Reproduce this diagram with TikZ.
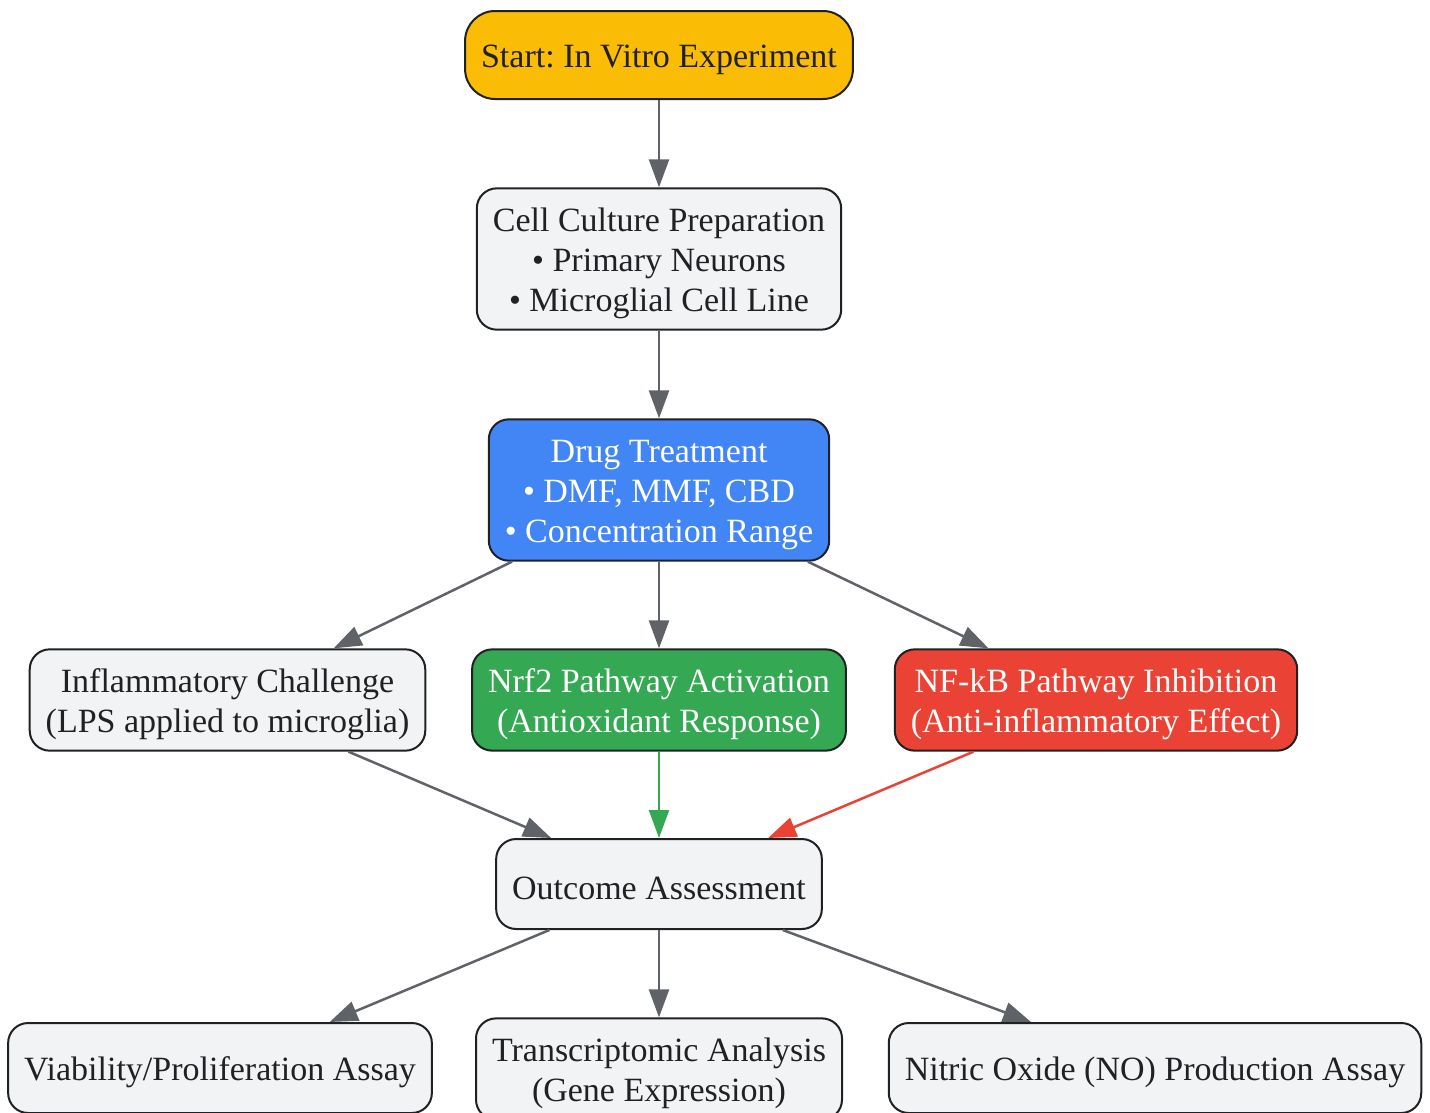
\documentclass[tikz,border=0pt]{standalone}
\usepackage{fontspec}
\setmainfont{Liberation Serif}
\usetikzlibrary{arrows.meta,positioning}
\definecolor{gyellow}{HTML}{FBBC05}
\definecolor{gblue}{HTML}{4285F4}
\definecolor{ggreen}{HTML}{34A853}
\definecolor{gred}{HTML}{EA4335}
\definecolor{boxgray}{HTML}{F1F3F4}
\definecolor{edgedark}{HTML}{202124}
\definecolor{arrowgray}{HTML}{5F6368}
\frenchspacing
\newcommand{\topstrut}{\rule{0pt}{32pt}}

\begin{document}
\begin{tikzpicture}[
    node distance=184pt,
    >={Triangle[length=28pt,width=20pt]},
    font=\fontsize{34}{40}\selectfont,
    process/.style={
		rectangle,
		rounded corners=20pt,
		draw=edgedark,
		line width=2pt,
		fill=boxgray,
		text=edgedark,
		align=center,
		inner xsep=16pt,
		inner ysep=11pt,
		minimum height=90pt,
		execute at begin node={\topstrut}
	},
	terminal/.style={
		process,
		rounded corners=30pt,
		fill=gyellow,
		minimum height=88pt
	},
	drugbox/.style={process, fill=gblue, text=white},
	nrfbox/.style={process, fill=ggreen, text=white},
	nfkbbox/.style={process, fill=gred, text=white},
	flow/.style={->, draw=arrowgray, line width=2.5pt}
  ]
  \useasboundingbox (0,0) rectangle (1430pt,-1112pt);

    % We start by placing the blocks
  \node [terminal] (start) at (659pt,-55pt) {Start: In Vitro Experiment};

  \node [process, node distance=204pt, below of=start] (culture)
 {\topstrut Cell Culture Preparation\\ • Primary Neurons\\ • Microglial Cell Line};

  \node [drugbox, node distance=231pt, below of=culture] (drug)
 {\topstrut Drug Treatment\\ • DMF, MMF, CBD\\ • Concentration Range};

  \node [nrfbox, node distance=210pt, below of=drug] (nrf2)
 {\topstrut Nrf2 Pathway Activation\\ (Antioxidant Response)};

  \node [process, node distance=210pt, below of=drug, xshift=-431.5pt] (inflam)
 {\topstrut Inflammatory Challenge\\ (LPS applied to microglia)};

  \node [nfkbbox, node distance=210pt, below of=drug, xshift=437pt] (nfkb)
 {\topstrut NF-kB Pathway Inhibition\\ (Anti-inflammatory Effect)};

  \node [process, below of=nrf2] (outcome) {Outcome Assessment};

  \node [process, node distance=185pt, below of=outcome] (transcript)
 {\topstrut Transcriptomic Analysis\\ (Gene Expression)};

  \node [process, below of=outcome, xshift=-439pt] (viability) {Viability/Proliferation Assay};

  \node [process, below of=outcome, xshift=496pt] (nitric) {Nitric Oxide (NO) Production Assay};

 \draw [flow] (start) -- (culture);
 \draw [flow] (culture) -- (drug);
 \draw [flow] (drug) -- (inflam);
 \draw [flow] (drug) -- (nrf2);
 \draw [flow] (drug) -- (nfkb);
 \draw [flow] (inflam) -- (outcome);
 \draw [flow, draw=ggreen] (nrf2) -- (outcome);
 \draw [flow, draw=gred] (nfkb) -- (outcome);
 \draw [flow] (outcome) -- (viability);
 \draw [flow] (outcome) -- (transcript);
 \draw [flow] (outcome) -- (nitric);

\end{tikzpicture}
\end{document}
